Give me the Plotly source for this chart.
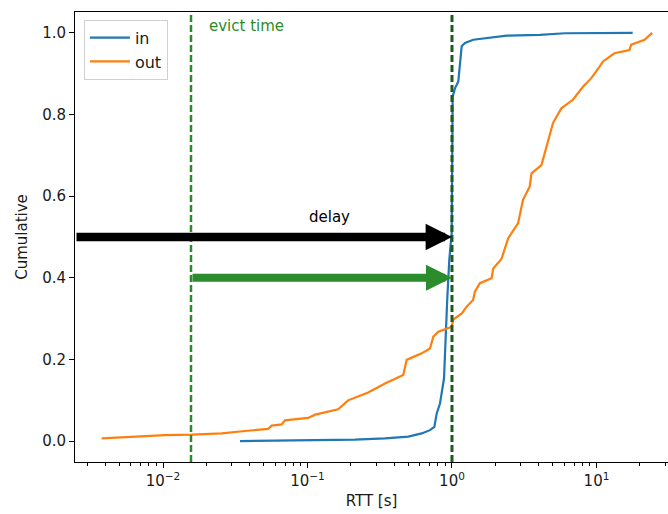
import math
import plotly.graph_objects as go

# ---- data ----
in_rtt = [0.0341, 0.101, 0.213, 0.344, 0.499, 0.617, 0.704, 0.755, 0.784, 0.826,
          0.881, 0.895, 0.909, 0.928, 0.958, 0.995, 1.011, 1.049, 1.106, 1.167,
          1.230, 1.404, 2.39, 4.06, 6.05, 12.7, 17.8]
in_cum = [0.0, 0.002, 0.004, 0.007, 0.011, 0.019, 0.027, 0.035, 0.068, 0.092,
          0.154, 0.215, 0.288, 0.35, 0.444, 0.509, 0.844, 0.864, 0.881, 0.967,
          0.975, 0.983, 0.993, 0.995, 0.999, 1.0, 1.0]

out_rtt = [0.00376, 0.0064, 0.0103, 0.0158, 0.0255, 0.0369, 0.0535, 0.0565, 0.0662, 0.0698,
           0.101, 0.113, 0.163, 0.191, 0.263, 0.344, 0.460, 0.486, 0.617, 0.704,
           0.743, 0.804, 0.995, 1.02, 1.17, 1.26, 1.40, 1.44, 1.56, 1.88,
           1.93, 2.20, 2.45, 2.87, 3.10, 3.45, 3.55, 4.16, 4.50, 5.0,
           5.71, 6.87, 8.06, 9.21, 10.5, 11.1, 13.3, 16.9, 17.4, 21.5, 24.3]
out_cum = [0.007, 0.012, 0.015, 0.016, 0.019, 0.025, 0.030, 0.038, 0.041, 0.051,
           0.057, 0.065, 0.078, 0.100, 0.119, 0.141, 0.162, 0.199, 0.215, 0.227,
           0.256, 0.268, 0.280, 0.298, 0.313, 0.329, 0.346, 0.366, 0.387, 0.399,
           0.423, 0.446, 0.497, 0.534, 0.591, 0.623, 0.656, 0.676, 0.721, 0.779,
           0.815, 0.836, 0.868, 0.889, 0.917, 0.930, 0.950, 0.958, 0.971, 0.983, 1.0]

evict_time = 1 / 64
delay_end = 1.0
delay_level = 0.5
evict_level = 0.4

x_tickvals = [0.01, 0.1, 1, 10]
x_ticktext = ["10<sup>−2</sup>", "10<sup>−1</sup>", "10<sup>0</sup>", "10<sup>1</sup>"]
y_tickvals = [0.0, 0.2, 0.4, 0.6, 0.8, 1.0]

X_RANGE_LOG = [-2.609, 1.495]
Y_RANGE = [-0.051, 1.051]

FONT = "DejaVu Sans"
GREEN = "#2a8c2a"
DARKGREEN = "#1d5c1d"

fig = go.Figure()
fig.add_trace(go.Scatter(x=in_rtt, y=in_cum, mode="lines", name="in",
                         line=dict(color="#1f77b4", width=2.2)))
fig.add_trace(go.Scatter(x=out_rtt, y=out_cum, mode="lines", name="out",
                         line=dict(color="#ff7f0e", width=2.2)))

# vertical dashed lines
fig.add_shape(type="line", xref="x", yref="paper", x0=evict_time, x1=evict_time, y0=0, y1=1,
              line=dict(color=GREEN, width=2.5, dash="7px,3px"))
fig.add_shape(type="line", xref="x", yref="paper", x0=delay_end, x1=delay_end, y0=0, y1=1,
              line=dict(color=DARKGREEN, width=3, dash="7px,3px"))

# arrows
fig.add_annotation(x=math.log10(delay_end), y=delay_level, ax=X_RANGE_LOG[0], ay=delay_level,
                   xref="x", yref="y", axref="x", ayref="y", text="", showarrow=True,
                   arrowhead=2, arrowwidth=8.5, arrowsize=0.62, arrowcolor="black", standoff=0)
fig.add_annotation(x=math.log10(delay_end), y=evict_level, ax=math.log10(evict_time), ay=evict_level,
                   xref="x", yref="y", axref="x", ayref="y", text="", showarrow=True,
                   arrowhead=2, arrowwidth=8, arrowsize=0.65, arrowcolor=GREEN, standoff=0)

fig.add_annotation(x=math.log10(0.143), y=0.55, xref="x", yref="y", text="delay",
                   showarrow=False, font=dict(family=FONT, size=15, color="black"))
fig.add_annotation(x=math.log10(0.0202), y=1.017, xref="x", yref="y", text="evict time",
                   showarrow=False, xanchor="left", yanchor="middle",
                   font=dict(family=FONT, size=15, color=GREEN))

minor_vals = [k * 10 ** d for d in range(-3, 2) for k in range(2, 10)]

fig.update_layout(
    width=668, height=514,
    margin=dict(l=75, r=0, t=12, b=52),
    paper_bgcolor="white", plot_bgcolor="white",
    font=dict(family=FONT, size=15, color="#1a1a1a"),
    showlegend=True,
    legend=dict(x=0.015, y=0.983, xanchor="left", yanchor="top",
                bgcolor="white", bordercolor="#d0d0d0", borderwidth=1,
                font=dict(family=FONT, size=16), tracegroupgap=0, itemwidth=40),
    xaxis=dict(type="log", range=X_RANGE_LOG, showgrid=False, zeroline=False,
               showline=True, linecolor="black", linewidth=1, mirror=True,
               ticks="outside", ticklen=5, tickcolor="black",
               tickvals=x_tickvals, ticktext=x_ticktext,
               minor=dict(ticks="outside", ticklen=3, tickcolor="black", tickvals=minor_vals),
               title=dict(text="RTT [s]", font=dict(family=FONT, size=15), standoff=6)),
    yaxis=dict(range=Y_RANGE, showgrid=False, zeroline=False,
               showline=True, linecolor="black", linewidth=1,
               ticks="outside", ticklen=5, tickcolor="black",
               tickvals=y_tickvals, tickformat=".1f",
               title=dict(text="Cumulative", font=dict(family=FONT, size=15), standoff=10)),
)

fig.write_html("out.html", config={"displayModeBar": False},
               post_script="document.body.style.margin='0';document.body.style.padding='0';")
